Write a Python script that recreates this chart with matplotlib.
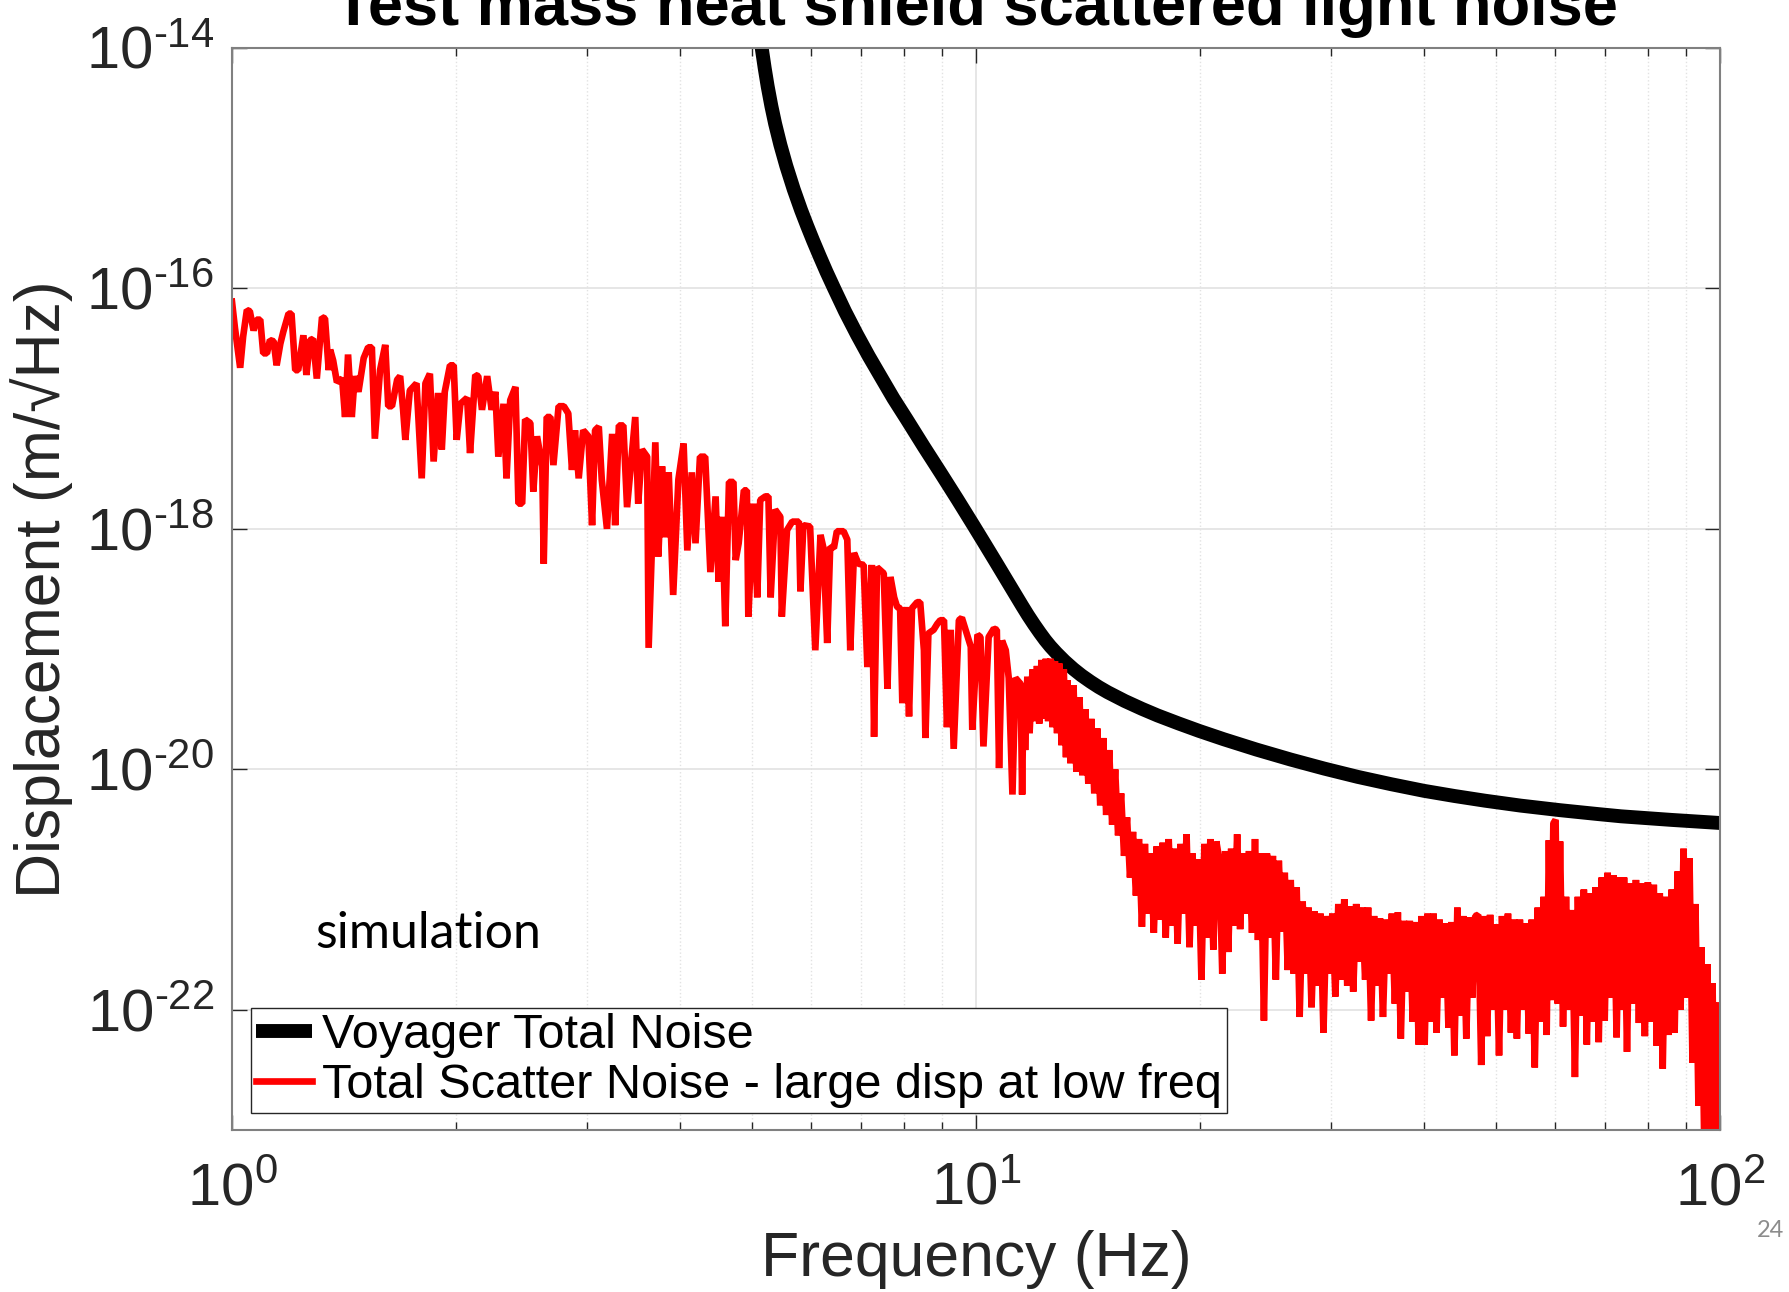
import numpy as np
import matplotlib.pyplot as plt
from matplotlib.ticker import LogLocator, NullLocator, NullFormatter, FuncFormatter

plt.rcParams['font.family'] = ['Liberation Sans', 'DejaVu Sans']
plt.rcParams['mathtext.fontset'] = 'custom'
plt.rcParams['mathtext.rm'] = 'Liberation Sans'
plt.rcParams['mathtext.it'] = 'Liberation Sans:italic'
plt.rcParams['mathtext.bf'] = 'Liberation Sans:bold'
plt.rcParams['axes.unicode_minus'] = False

# Voyager total noise: (log10 f [Hz], log10 ASD [m/rtHz])
voyager = [
    (0.709, -13.865), (0.712, -14.000), (0.716, -14.168), (0.720, -14.320),
    (0.725, -14.485), (0.730, -14.630), (0.737, -14.805), (0.745, -14.981),
    (0.755, -15.176), (0.765, -15.351), (0.773, -15.479), (0.781, -15.602),
    (0.790, -15.734), (0.799, -15.862), (0.809, -15.996), (0.824, -16.192),
    (0.840, -16.384), (0.856, -16.565), (0.872, -16.735), (0.889, -16.915),
    (0.907, -17.090), (0.930, -17.318), (0.952, -17.530), (0.975, -17.755),
    (0.997, -17.975), (1.012, -18.127), (1.027, -18.280), (1.044, -18.455),
    (1.062, -18.640), (1.070, -18.720), (1.078, -18.795), (1.086, -18.866),
    (1.093, -18.925), (1.100, -18.978), (1.108, -19.032), (1.119, -19.100),
    (1.131, -19.166), (1.142, -19.220), (1.154, -19.272), (1.165, -19.316),
    (1.177, -19.359), (1.200, -19.432), (1.223, -19.497), (1.244, -19.552),
    (1.272, -19.618), (1.300, -19.681), (1.333, -19.750), (1.377, -19.836),
    (1.423, -19.919), (1.468, -19.994), (1.513, -20.063), (1.558, -20.124),
    (1.602, -20.179), (1.643, -20.222), (1.684, -20.261), (1.732, -20.302),
    (1.785, -20.340), (1.837, -20.373), (1.867, -20.391), (1.935, -20.421),
    (2.001, -20.447),
]

# total scattered light noise, 1 - 11 Hz
scatter_low = [
    (0.000, -16.11), (0.004, -16.33), (0.011, -16.66), (0.015, -16.40),
    (0.020, -16.18), (0.024, -16.19), (0.029, -16.35), (0.033, -16.26),
    (0.038, -16.26), (0.042, -16.54), (0.047, -16.54), (0.051, -16.43),
    (0.056, -16.44), (0.060, -16.64), (0.065, -16.46), (0.069, -16.36),
    (0.076, -16.21), (0.080, -16.21), (0.085, -16.68), (0.089, -16.68),
    (0.096, -16.39), (0.100, -16.72), (0.105, -16.43), (0.109, -16.42),
    (0.114, -16.75), (0.121, -16.24), (0.125, -16.25), (0.130, -16.68),
    (0.132, -16.51), (0.136, -16.60), (0.141, -16.78), (0.148, -16.75),
    (0.152, -17.07), (0.156, -16.55), (0.161, -17.07), (0.165, -16.73),
    (0.170, -16.86), (0.177, -16.58), (0.183, -16.49), (0.188, -16.49),
    (0.192, -17.25), (0.199, -16.68), (0.206, -16.47), (0.210, -16.98),
    (0.215, -16.98), (0.222, -16.76), (0.226, -16.73), (0.230, -17.01),
    (0.233, -17.26), (0.239, -16.85), (0.248, -16.79), (0.255, -17.58),
    (0.260, -16.79), (0.266, -16.71), (0.271, -17.44), (0.277, -16.87),
    (0.282, -17.34), (0.286, -16.86), (0.293, -16.64), (0.298, -16.64),
    (0.302, -17.26), (0.307, -16.96), (0.316, -16.91), (0.320, -17.37),
    (0.327, -16.72), (0.331, -16.73), (0.336, -17.01), (0.343, -16.73),
    (0.349, -17.01), (0.354, -16.86), (0.358, -17.40), (0.365, -16.96),
    (0.369, -17.58), (0.374, -16.93), (0.381, -16.82), (0.385, -17.79),
    (0.390, -17.79), (0.394, -17.09), (0.401, -17.12), (0.405, -17.69),
    (0.410, -17.23), (0.417, -17.48), (0.419, -18.29), (0.423, -17.07),
    (0.428, -17.07), (0.432, -17.47), (0.439, -16.98), (0.446, -16.98),
    (0.452, -17.04), (0.457, -17.51), (0.461, -17.18), (0.466, -17.58),
    (0.472, -17.18), (0.479, -17.23), (0.484, -17.97), (0.488, -17.18),
    (0.493, -17.15), (0.497, -17.59), (0.504, -18.00), (0.511, -17.21),
    (0.515, -17.97), (0.520, -17.14), (0.526, -17.14), (0.531, -17.82),
    (0.542, -17.07), (0.546, -17.79), (0.551, -17.34), (0.558, -17.40),
    (0.560, -18.99), (0.569, -17.28), (0.573, -18.23), (0.578, -17.48),
    (0.582, -18.07), (0.587, -17.53), (0.593, -18.55), (0.600, -17.59),
    (0.607, -17.29), (0.612, -18.18), (0.618, -17.53), (0.623, -18.12),
    (0.629, -17.40), (0.636, -17.40), (0.643, -18.36), (0.650, -17.73),
    (0.654, -18.44), (0.659, -17.90), (0.663, -18.81), (0.668, -17.61),
    (0.674, -17.61), (0.677, -18.26), (0.681, -18.12), (0.688, -17.68),
    (0.692, -17.68), (0.694, -18.73), (0.701, -17.79), (0.706, -18.57),
    (0.710, -17.76), (0.717, -17.73), (0.721, -17.73), (0.724, -18.57),
    (0.730, -17.84), (0.737, -17.90), (0.739, -18.73), (0.746, -18.01),
    (0.753, -17.94), (0.762, -17.94), (0.764, -18.52), (0.768, -17.97),
    (0.777, -17.98), (0.784, -19.01), (0.791, -18.05), (0.795, -18.16),
    (0.800, -18.95), (0.804, -18.15), (0.809, -18.16), (0.813, -18.02),
    (0.822, -18.02), (0.827, -18.09), (0.831, -19.01), (0.836, -18.20),
    (0.842, -18.29), (0.849, -18.30), (0.854, -19.15), (0.860, -18.30),
    (0.863, -19.73), (0.867, -18.32), (0.876, -18.37), (0.881, -19.33),
    (0.885, -18.40), (0.890, -18.57), (0.894, -18.65), (0.898, -18.66),
    (0.901, -19.45), (0.905, -18.65), (0.910, -19.56), (0.914, -18.66),
    (0.921, -18.61), (0.925, -18.61), (0.930, -19.01), (0.932, -19.74),
    (0.936, -18.87), (0.943, -18.84), (0.948, -18.79), (0.952, -18.76),
    (0.957, -18.76), (0.961, -19.65), (0.966, -18.84), (0.970, -19.83),
    (0.977, -18.76), (0.981, -18.74), (0.986, -18.84), (0.993, -18.98),
    (0.995, -19.67), (1.002, -18.88), (1.006, -18.90), (1.010, -19.81),
    (1.017, -18.90), (1.024, -18.83), (1.028, -18.84), (1.031, -19.99),
    (1.035, -18.93), (1.040, -19.01), (1.044, -19.24), (1.049, -20.21),
    (1.053, -19.24), (1.060, -19.29), (1.062, -20.21),
]

# resonance bump around 12 Hz
scatter_bump = [
    (1.064, -19.30), (1.066, -19.84), (1.069, -19.23), (1.072, -19.70),
    (1.076, -19.17), (1.079, -19.60), (1.082, -19.14), (1.085, -19.62),
    (1.088, -19.09), (1.091, -19.58), (1.094, -19.08), (1.097, -19.60),
    (1.100, -19.08), (1.103, -19.65), (1.106, -19.10), (1.109, -19.70),
    (1.112, -19.12), (1.115, -19.80), (1.118, -19.17), (1.121, -19.90),
    (1.123, -19.26),
]

# roll-off and noise floor, 13 - 100 Hz
scatter_high = [
    (1.127, -19.95), (1.131, -19.30), (1.135, -20.02), (1.139, -19.40),
    (1.143, -20.05), (1.147, -19.50), (1.151, -20.12), (1.155, -19.58),
    (1.159, -20.20), (1.163, -19.66), (1.167, -20.30), (1.171, -19.74),
    (1.175, -20.38), (1.179, -19.84), (1.183, -20.46), (1.187, -20.00),
    (1.191, -20.55), (1.195, -20.20), (1.199, -20.72), (1.203, -20.40),
    (1.207, -20.90), (1.211, -20.52), (1.215, -21.05), (1.219, -20.58),
    (1.223, -21.31), (1.227, -20.62), (1.231, -21.20), (1.235, -20.70),
    (1.239, -21.36), (1.243, -20.64), (1.247, -21.25), (1.251, -20.61),
    (1.255, -21.40), (1.259, -20.58), (1.263, -21.30), (1.267, -20.66),
    (1.271, -21.45), (1.275, -20.62), (1.279, -21.20), (1.283, -20.54),
    (1.287, -21.48), (1.291, -20.70), (1.295, -21.30), (1.299, -20.75),
    (1.303, -21.75), (1.307, -20.62), (1.311, -21.40), (1.315, -20.58),
    (1.319, -21.50), (1.323, -20.60), (1.327, -20.75), (1.331, -21.70),
    (1.335, -20.68), (1.339, -21.52), (1.343, -20.66), (1.347, -21.30),
    (1.351, -20.54), (1.355, -21.33), (1.359, -20.70), (1.363, -21.20),
    (1.367, -20.68), (1.371, -21.36), (1.375, -20.58), (1.379, -21.42),
    (1.383, -20.70), (1.387, -22.09), (1.391, -20.70), (1.395, -21.40),
    (1.399, -20.72), (1.403, -21.75), (1.407, -20.76), (1.411, -21.35),
    (1.415, -20.86), (1.419, -21.67), (1.423, -20.92), (1.427, -21.70),
    (1.431, -20.98), (1.435, -22.06), (1.439, -21.10), (1.443, -21.70),
    (1.447, -21.15), (1.451, -21.98), (1.455, -21.18), (1.459, -21.80),
    (1.463, -21.20), (1.467, -22.19), (1.471, -21.22), (1.475, -21.70),
    (1.479, -21.20), (1.483, -21.89), (1.487, -21.12), (1.491, -21.75),
    (1.495, -21.08), (1.499, -21.80), (1.503, -21.14), (1.507, -21.85),
    (1.511, -21.12), (1.515, -21.60), (1.519, -21.15), (1.523, -21.75),
    (1.527, -21.15), (1.531, -22.09), (1.535, -21.22), (1.539, -21.80),
    (1.543, -21.24), (1.547, -22.06), (1.551, -21.25), (1.555, -21.70),
    (1.559, -21.20), (1.563, -21.95), (1.567, -21.19), (1.571, -22.24),
    (1.575, -21.26), (1.579, -21.85), (1.583, -21.26), (1.587, -22.10),
    (1.591, -21.27), (1.595, -22.29), (1.599, -21.22), (1.603, -22.29),
    (1.607, -21.20), (1.611, -22.10), (1.615, -21.20), (1.619, -22.19),
    (1.623, -21.25), (1.627, -21.90), (1.631, -21.28), (1.635, -22.15),
    (1.639, -21.27), (1.643, -22.38), (1.647, -21.15), (1.651, -22.05),
    (1.655, -21.22), (1.659, -22.24), (1.663, -21.23), (1.667, -21.90),
    (1.671, -21.22), (1.675, -21.21), (1.679, -22.46), (1.683, -21.22),
    (1.687, -22.22), (1.691, -21.21), (1.695, -22.00), (1.699, -21.29),
    (1.703, -22.38), (1.707, -21.22), (1.711, -22.00), (1.715, -21.20),
    (1.719, -22.19), (1.723, -21.25), (1.727, -22.24), (1.731, -21.25),
    (1.735, -22.00), (1.739, -21.28), (1.743, -22.20), (1.747, -21.25),
    (1.751, -22.48), (1.755, -21.15), (1.759, -22.10), (1.763, -21.06),
    (1.767, -22.21), (1.770, -20.59), (1.773, -21.92), (1.776, -20.45),
    (1.779, -20.42), (1.782, -21.95), (1.785, -20.60), (1.789, -22.14),
    (1.793, -21.06), (1.797, -22.00), (1.801, -21.17), (1.805, -22.56),
    (1.809, -21.06), (1.813, -22.05), (1.817, -21.00), (1.821, -22.29),
    (1.825, -21.03), (1.829, -22.10), (1.833, -20.98), (1.837, -22.27),
    (1.841, -20.90), (1.845, -22.09), (1.849, -20.86), (1.853, -21.90),
    (1.857, -20.88), (1.861, -22.23), (1.865, -20.90), (1.869, -22.00),
    (1.871, -20.90), (1.875, -22.35), (1.879, -20.95), (1.883, -21.95),
    (1.887, -20.92), (1.891, -22.11), (1.895, -20.95), (1.899, -22.22),
    (1.903, -20.94), (1.907, -22.10), (1.911, -20.96), (1.915, -22.30),
    (1.919, -21.03), (1.923, -22.49), (1.927, -21.06), (1.931, -22.21),
    (1.935, -21.00), (1.939, -22.19), (1.943, -20.85), (1.947, -22.00),
    (1.951, -20.66), (1.955, -21.90), (1.959, -20.74), (1.963, -22.44),
    (1.967, -21.12), (1.971, -22.80), (1.975, -21.48), (1.979, -23.20),
    (1.983, -21.62), (1.987, -23.50), (1.990, -21.78), (1.993, -23.60),
    (1.997, -21.94), (2.000, -23.30),
]

y_ticks = [1e-22, 1e-20, 1e-18, 1e-16, 1e-14]


def power_label(val, pos):
    e = int(round(np.log10(val)))
    if e < 0:
        return r'$\mathdefault{10^{\text{-}%d}}$' % (-e)
    return r'$\mathdefault{10^{%d}}$' % e


v = np.array(voyager)
s = np.array(scatter_low + scatter_bump + scatter_high)

fig = plt.figure(figsize=(17.9, 12.92), dpi=100)
ax = fig.add_axes([0.1296, 0.1254, 0.8313, 0.8375])

ax.plot(10 ** v[:, 0], 10 ** v[:, 1], color='black', lw=10,
        solid_capstyle='butt', solid_joinstyle='round',
        label='Voyager Total Noise')
ax.plot(10 ** s[:, 0], 10 ** s[:, 1], color='#ff0000', lw=4.8,
        solid_joinstyle='bevel',
        label='Total Scatter Noise - large disp at low freq')

ax.set_xscale('log')
ax.set_yscale('log')
ax.set_xlim(1, 100)
ax.set_ylim(1e-23, 1e-14)
ax.set_yticks(y_ticks)
ax.yaxis.set_minor_locator(NullLocator())
ax.xaxis.set_minor_locator(LogLocator(base=10, subs=np.arange(2, 10)))
ax.xaxis.set_minor_formatter(NullFormatter())
ax.xaxis.set_major_formatter(FuncFormatter(power_label))
ax.yaxis.set_major_formatter(FuncFormatter(power_label))

ax.grid(True, which='major', color='#e2e2e2', lw=1.2)
ax.grid(True, which='minor', axis='x', color='#e2e2e2', ls=':', lw=1.0)
ax.set_axisbelow(True)

for sp in ax.spines.values():
    sp.set_color('#808080')
    sp.set_linewidth(1.5)
ax.tick_params(which='both', direction='in', top=True, right=True,
               color='#262626', labelcolor='#262626')
ax.tick_params(which='major', length=11, width=1.0)
ax.tick_params(which='minor', length=6, width=1.0)
ax.tick_params(axis='x', which='major', labelsize=43, pad=23)
ax.tick_params(axis='y', which='major', labelsize=43, pad=13)

ax.set_xlabel('Frequency (Hz)', fontsize=45, color='#262626')
ax.xaxis.set_label_coords(0.5, -0.135)
ax.xaxis.label.set_verticalalignment('baseline')
ax.set_ylabel('Displacement (m/\u221aHz)', fontsize=45, color='#262626')
ax.yaxis.set_label_coords(-0.1156, 0.5)
ax.yaxis.label.set_verticalalignment('baseline')

leg = ax.legend(loc='lower left', bbox_to_anchor=(0.0128, 0.0157),
                borderaxespad=0, fontsize=35, handlelength=1.16,
                handletextpad=0.2, labelspacing=0.1, borderpad=0.1,
                fancybox=False, edgecolor='#262626', framealpha=1)
leg.get_frame().set_linewidth(1.0)

ax.text(0.0558, 0.168, 'simulation', transform=ax.transAxes,
        fontsize=36, family='Lato', color='black', va='baseline')

fig.text(0.5453, 0.9807, 'Test mass heat shield scattered light noise',
         fontsize=45.5, fontweight='bold', ha='center', va='baseline')
fig.text(0.9816, 0.0426, '24', fontsize=17, family='Lato',
         color='#8c8c8c', va='baseline')

fig.savefig('out.png', dpi=100)
